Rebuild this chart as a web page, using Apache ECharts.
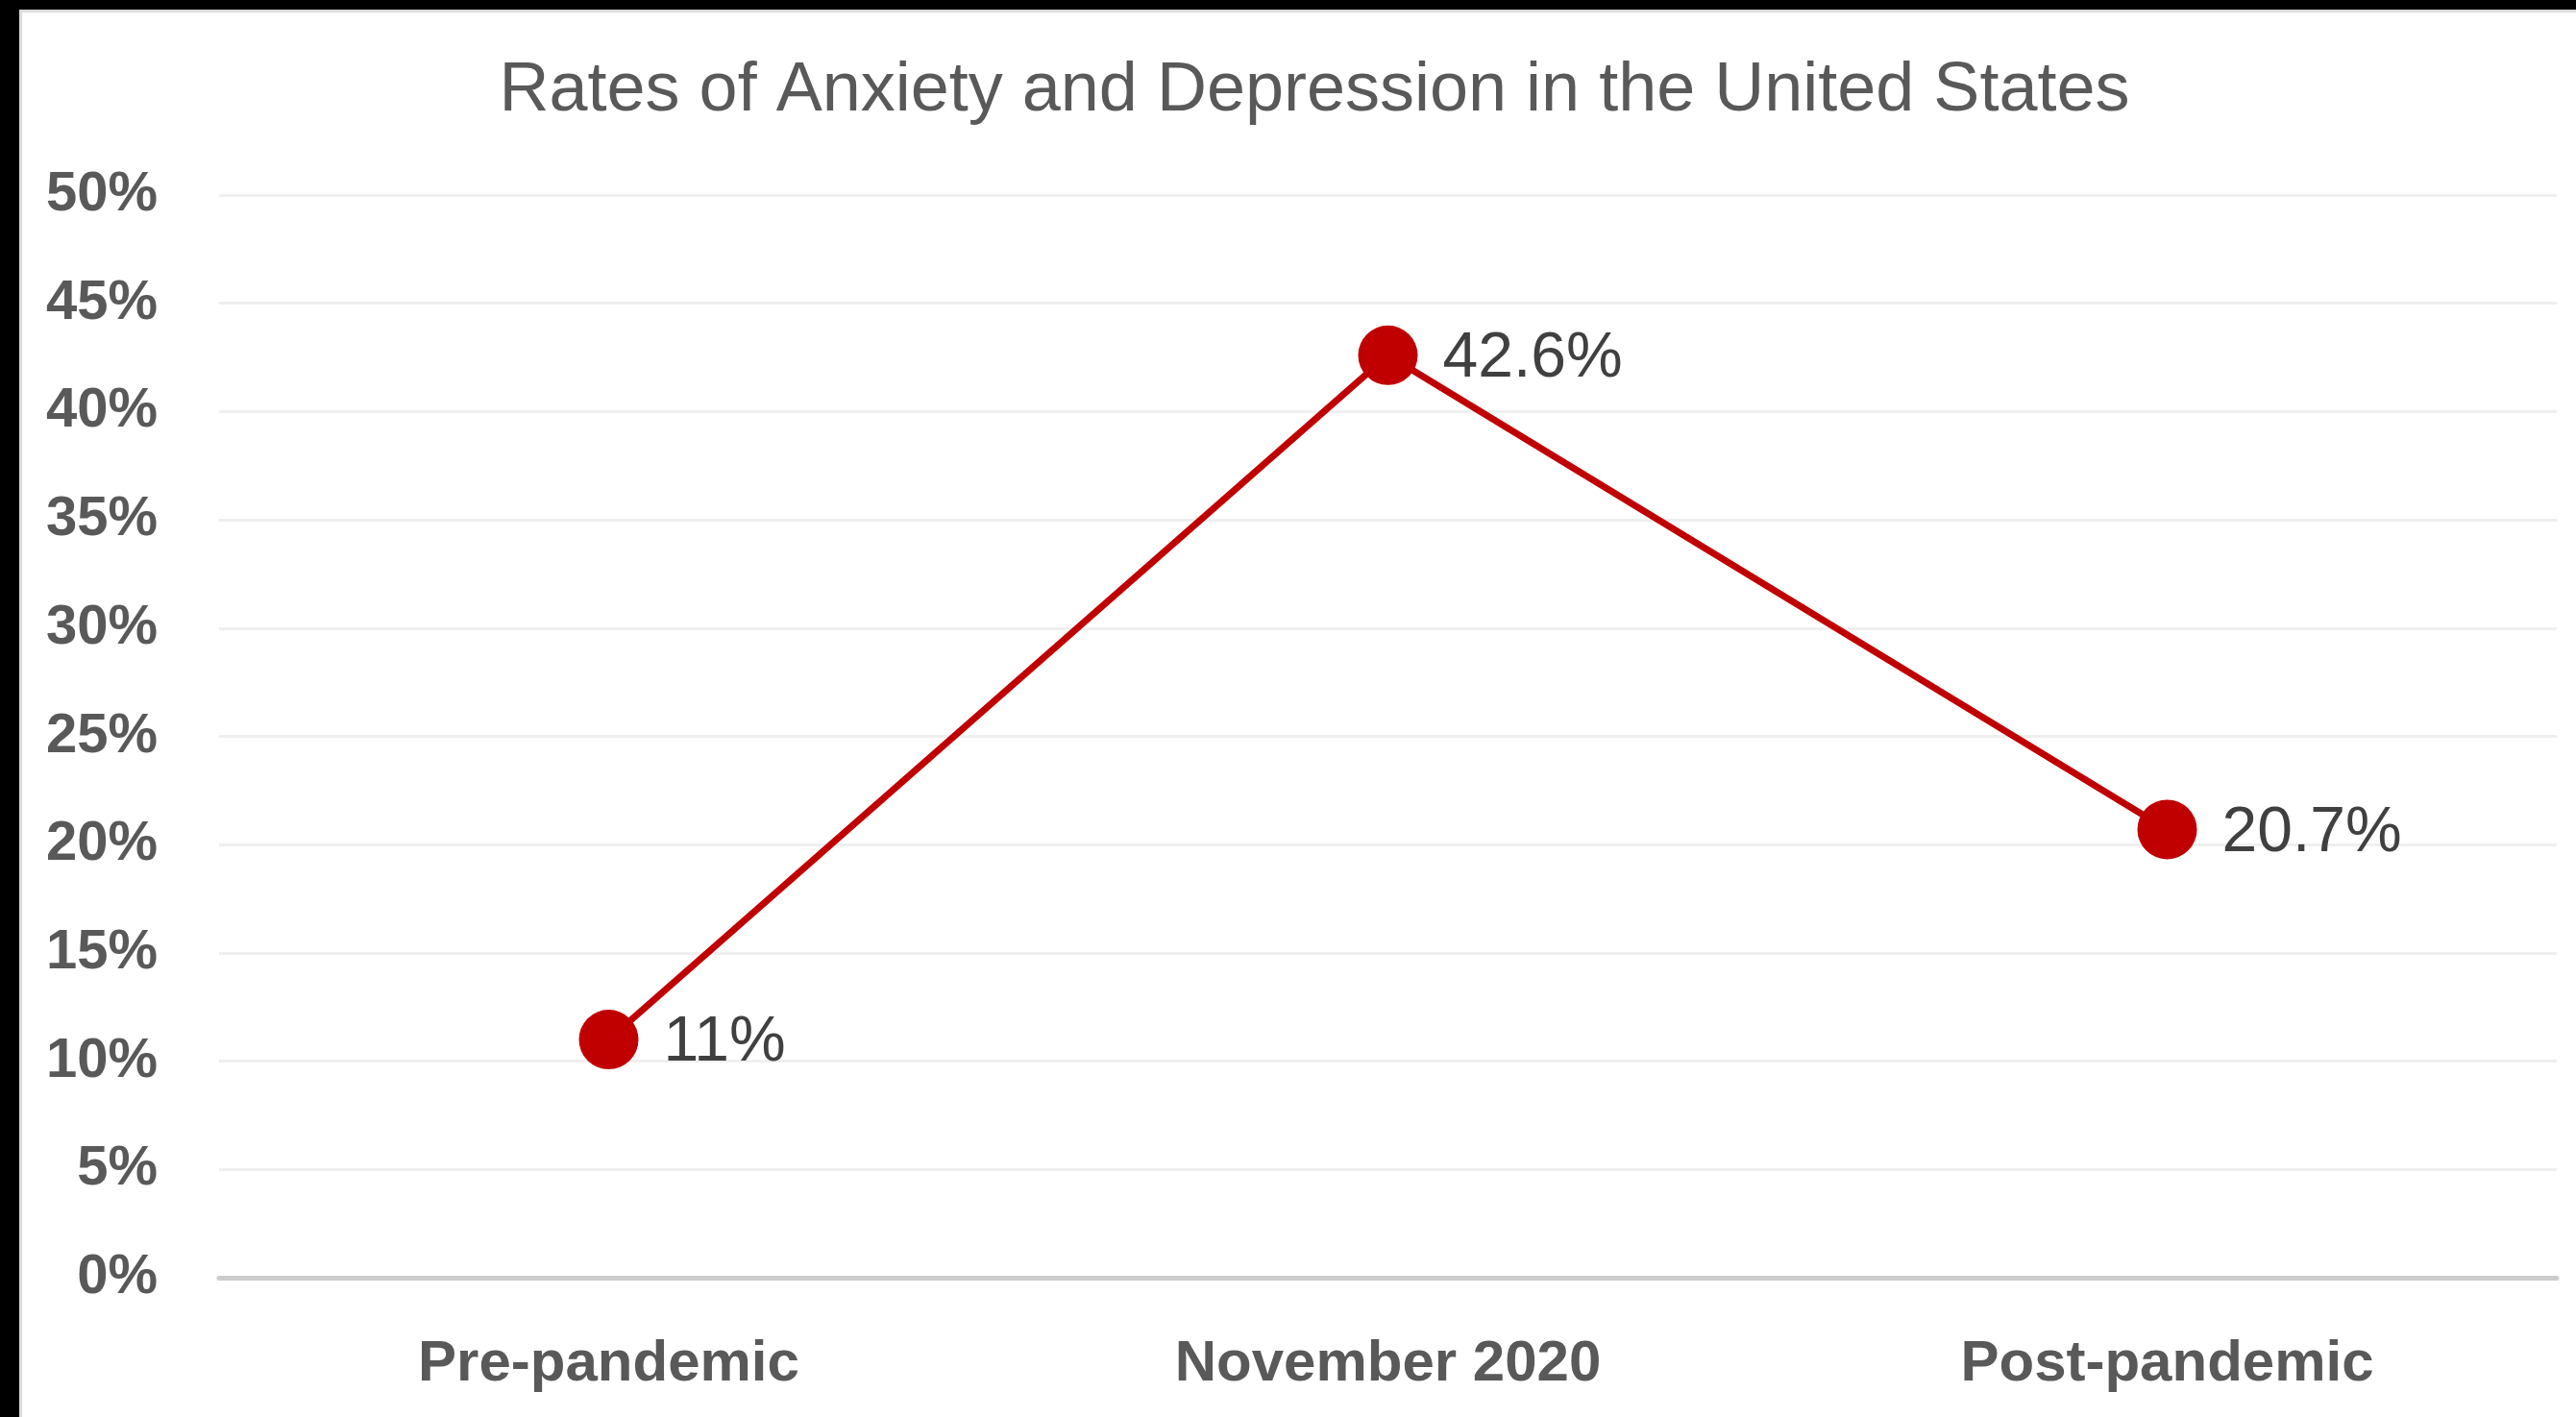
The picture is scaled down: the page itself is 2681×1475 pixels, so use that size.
<!DOCTYPE html>
<html>
<head>
<meta charset="utf-8">
<script src="https://cdn.jsdelivr.net/npm/echarts@6/dist/echarts.min.js"></script>
<style>
html,body{margin:0;padding:0;background:#fff;}
#c{width:2681px;height:1475px;}
</style>
</head>
<body>
<div id="c"></div>
<script>
const categories = ['Pre-pandemic', 'November 2020', 'Post-pandemic'];
const rates = [11, 42.6, 20.7];
const yTicks = { min: 0, max: 50, interval: 5 };

const chart = echarts.init(document.getElementById('c'));
const FONT = '"Liberation Sans", Arial, sans-serif';
chart.setOption({
  backgroundColor: '#ffffff',
  animation: false,
  graphic: [
    { type: 'rect', shape: { x: 0, y: 0, width: 2681, height: 10 }, style: { fill: '#000' }, z: 100 },
    { type: 'rect', shape: { x: 0, y: 0, width: 20, height: 1475 }, style: { fill: '#000' }, z: 100 },
    { type: 'rect', shape: { x: 20, y: 10, width: 2661, height: 3 }, style: { fill: '#dcdcdc' }, z: 100 },
    { type: 'rect', shape: { x: 20, y: 10, width: 3, height: 1465 }, style: { fill: '#dcdcdc' }, z: 100 }
  ],
  title: {
    text: 'Rates of Anxiety and Depression in the United States',
    left: 1363,
    top: 54,
    textAlign: 'center',
    textStyle: { fontFamily: FONT, fontSize: 72, fontWeight: 'normal', color: '#595959' }
  },
  grid: { left: 228, right: 20, top: 203, bottom: 145, containLabel: false },
  xAxis: {
    type: 'category',
    data: categories,
    boundaryGap: true,
    axisTick: { show: false },
    axisLine: { lineStyle: { color: '#cccccc', width: 5 } },
    axisLabel: { fontFamily: FONT, fontSize: 60, fontWeight: 'bold', color: '#595959', margin: 60 }
  },
  yAxis: {
    type: 'value',
    min: yTicks.min, max: yTicks.max, interval: yTicks.interval,
    axisLine: { show: false },
    axisTick: { show: false },
    splitLine: { lineStyle: { color: '#efefef', width: 3 } },
    axisLabel: { formatter: '{value}%', fontFamily: FONT, fontSize: 58, fontWeight: 'bold', color: '#595959', margin: 64 }
  },
  series: [{
    type: 'line',
    data: rates,
    symbol: 'circle',
    symbolSize: 62,
    itemStyle: { color: '#c00000' },
    lineStyle: { color: '#c00000', width: 7 },
    label: {
      show: true, position: 'right', distance: 26, offset: [0, 4],
      formatter: '{c}%',
      fontFamily: FONT, fontSize: 66, color: '#404040'
    }
  }]
});
</script>
</body>
</html>
